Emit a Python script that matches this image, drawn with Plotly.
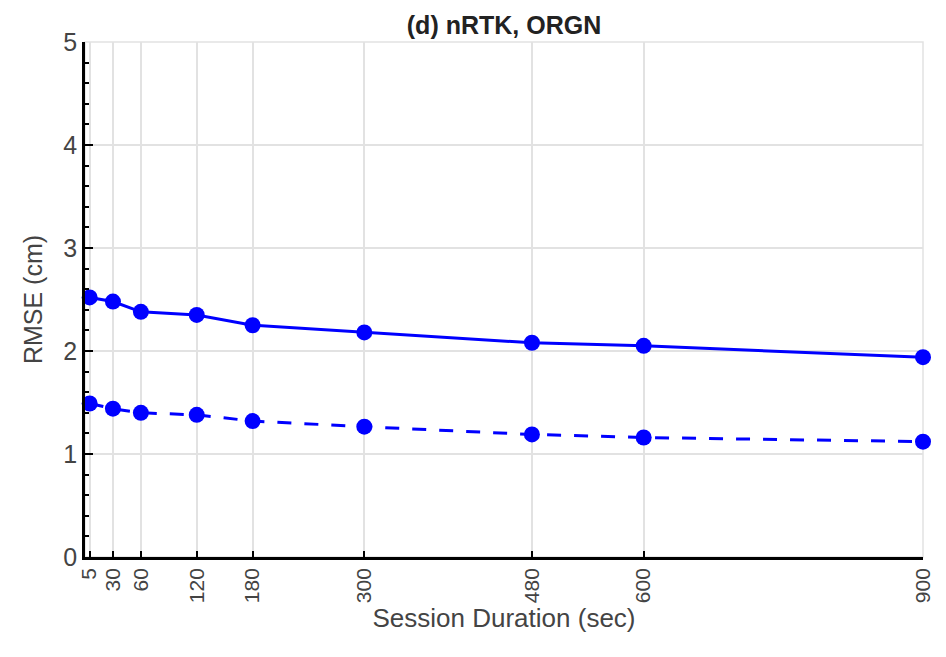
import plotly.graph_objects as go

# Session durations (sec) and RMSE (cm) for the two solution series
durations = [5, 30, 60, 120, 180, 300, 480, 600, 900]
rmse_solid = [2.52, 2.48, 2.38, 2.35, 2.25, 2.18, 2.08, 2.05, 1.94]
rmse_dashed = [1.49, 1.44, 1.40, 1.38, 1.32, 1.265, 1.19, 1.16, 1.12]

x_ticks = [5, 30, 60, 120, 180, 300, 480, 600, 900]
y_ticks = [0, 1, 2, 3, 4, 5]

FONT = "Liberation Sans, Arial, Helvetica, sans-serif"
BLUE = "#0000ff"
GRID = "#e2e2e2"

fig = go.Figure()

fig.add_trace(go.Scatter(
    x=durations, y=rmse_solid, mode="lines+markers",
    line=dict(color=BLUE, width=3),
    marker=dict(color=BLUE, size=16),
    cliponaxis=False, showlegend=False,
))
fig.add_trace(go.Scatter(
    x=durations, y=rmse_dashed, mode="lines+markers",
    line=dict(color=BLUE, width=3, dash="14px,13px"),
    marker=dict(color=BLUE, size=16),
    cliponaxis=False, showlegend=False,
))

# light frame on the top and right sides of the axes box
fig.add_shape(type="rect", xref="paper", yref="paper", x0=0, y0=0, x1=1, y1=1,
              line=dict(color=GRID, width=1.5), layer="below")

fig.update_layout(
    width=946, height=657,
    margin=dict(l=85, r=21, t=42, b=100),
    paper_bgcolor="white", plot_bgcolor="white",
    font=dict(family=FONT, color="#444444"),
    title=dict(text="<b>(d) nRTK, ORGN</b>", x=0.5, xref="paper",
               y=0.962, yref="container", xanchor="center", yanchor="middle",
               font=dict(family=FONT, size=25, color="#222222")),
)

fig.update_xaxes(
    range=[0, 900], tickmode="array", tickvals=x_ticks,
    ticktext=[str(v) for v in x_ticks], tickangle=-90,
    tickfont=dict(size=21, color="#444444"),
    ticks="inside", ticklen=6, tickwidth=1.5, tickcolor="black",
    showline=True, linecolor="black", linewidth=2.5,
    showgrid=True, gridcolor=GRID, gridwidth=1.5,
    zeroline=False,
    title=dict(text="Session Duration (sec)", standoff=2,
               font=dict(size=26, color="#444444")),
)

fig.update_yaxes(
    range=[0, 5], tickmode="array", tickvals=y_ticks,
    tickfont=dict(size=25, color="#444444"),
    ticks="inside", ticklen=8, tickwidth=1.5, tickcolor="black",
    minor=dict(ticks="inside", ticklen=4, dtick=0.2, tickcolor="black",
               tickwidth=1.5, showgrid=False),
    showline=True, linecolor="black", linewidth=2.5,
    showgrid=True, gridcolor=GRID, gridwidth=1.5,
    zeroline=False,
    title=dict(text="RMSE (cm)", standoff=14,
               font=dict(size=25, color="#444444")),
)

fig.write_html("out.html")
